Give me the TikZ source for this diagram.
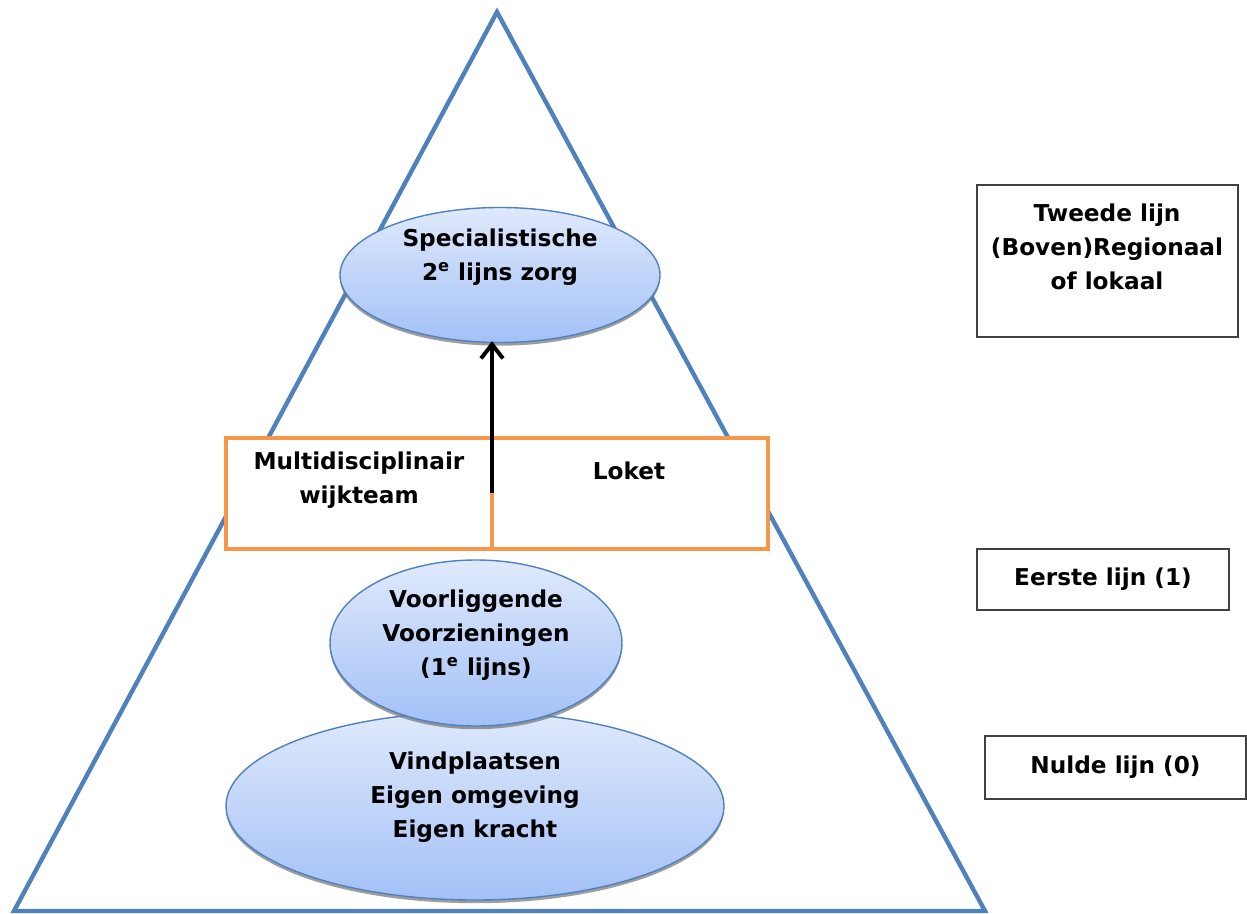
\documentclass[tikz,border=0pt]{standalone}
\usepackage{fontspec}
\setmainfont{DejaVu Sans}
\usepackage{tikz}
\usetikzlibrary{positioning,calc,arrows.meta,shapes.geometric,shadows}
\definecolor{pyrblue}{HTML}{4F81BD}
\definecolor{boxorange}{HTML}{F79646}
\definecolor{elltop}{HTML}{DFE9FB}
\definecolor{ellbot}{HTML}{A3C1F7}

\begin{document}
\begin{tikzpicture}[
  x=0.5pt, y=-0.5pt,
  font=\bfseries\fontsize{11.6}{17}\selectfont, >=Stealth,
  lvl/.style={ellipse, draw=pyrblue, line width=0.7pt, top color=elltop, bottom color=ellbot,
              drop shadow={shadow xshift=0pt, shadow yshift=-1.6pt, fill=black!55, opacity=0.7},
              inner sep=0pt},
  txt/.style={align=center, inner sep=0pt},
  half/.style={draw=boxorange, line width=2pt, fill=white, minimum height=55.5pt, inner sep=0pt},
  side/.style={draw=black!75, line width=0.6pt, fill=white, inner sep=0pt},
  up/.style={-{Straight Barb[length=7pt,width=11pt,line width=2pt]}, line width=2pt},
]
  \useasboundingbox (0,0) rectangle (1247,914);

  %=================== pyramid ===================
  \coordinate (apex) at (497,12);
  \coordinate (bl) at (14,911);
  \coordinate (br) at (985,911);
  \draw[pyrblue, line width=2.2pt, line join=miter] (apex) -- (br) -- (bl) -- cycle;

  %=================== ellipses ===================
  \node[lvl, minimum width=160pt, minimum height=67.5pt] (spec) at (500,275) {};
  \node[txt] (spectxt) at ($(spec.center)+(0,-18)$) {Specialistische\\2\textsuperscript{e} lijns zorg};

  \node[lvl, minimum width=249pt, minimum height=94pt] (vind) at (475,806) {};
  \node[txt] (vindtxt) at ($(vind.center)+(0,-9)$) {Vindplaatsen\\Eigen omgeving\\Eigen kracht};

  \node[lvl, minimum width=146pt, minimum height=83pt] (voor) at (476,643) {};
  \node[txt] (voortxt) at ($(voor.center)+(0,-8)$) {Voorliggende\\Voorzieningen\\(1\textsuperscript{e} lijns)};

  %=================== wijkteam / loket ===================
  \node[half, minimum width=133pt] (wijk) at (359,493.5) {};
  \node[half, minimum width=138pt] (loket) at (630,493.5) {};
  \node[txt] (wijktxt) at (359,480) {Multidisciplinair\\wijkteam};
  \node[txt] (lokettxt) at (629,471) {Loket};

  \coordinate (from) at (492,493);
  \draw[up] (from) -- ([yshift=1pt]from |- spec.south);

  %=================== levels on the right ===================
  \node[side, minimum width=130.5pt, minimum height=76pt] (tweede) at (1107.5,261) {};
  \node[txt] (tweedetxt) at (1107,247) {Tweede lijn\\(Boven)Regionaal\\of lokaal};
  \node[side, minimum width=126pt, minimum height=30.5pt] (eerste) at (1103,579.5) {Eerste lijn (1)};
  \node[side, minimum width=130.5pt, minimum height=31.5pt] (nulde) at (1115.5,767.5) {Nulde lijn (0)};
\end{tikzpicture}
\end{document}
